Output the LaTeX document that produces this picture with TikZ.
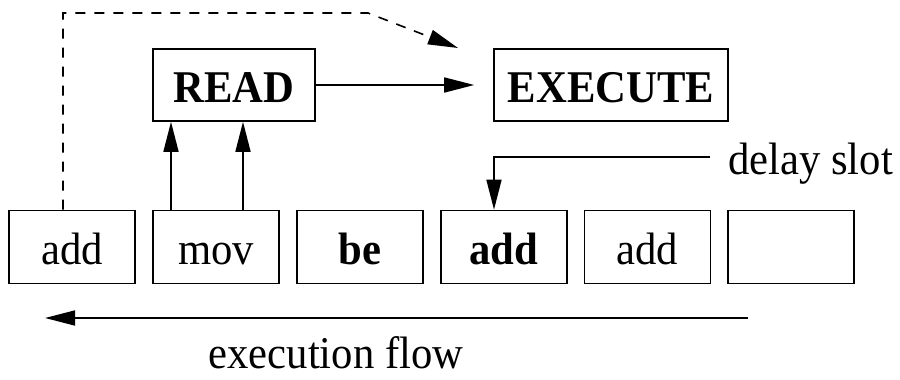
\documentclass[tikz,border=0pt]{standalone}
\usepackage{fontspec}
\setmainfont{Liberation Serif}[FakeStretch=0.94]
\usetikzlibrary{arrows.meta}
\begin{document}
\begin{tikzpicture}[x=1pt,y=1pt,
  cell/.style={draw, line width=1.6pt, minimum width=126pt, minimum height=73pt, inner sep=0pt,
    text height=35pt, text depth=0pt, font=\fontsize{45.4}{52}\selectfont},
  stage/.style={draw, line width=1.6pt, minimum height=72pt, inner sep=0pt,
    text height=36pt, text depth=0pt, font=\fontsize{45.4}{52}\selectfont\bfseries},
  arr/.style={line width=1.6pt, -{Triangle[length=30pt,width=15pt]}},
  lbl/.style={font=\fontsize{45.4}{52}\selectfont, inner sep=0pt}]
\useasboundingbox (0,0) rectangle (900,380);
% instruction cells
\node[cell] (c1) at (72,133) {add};
\node[cell] (c2) at (216,133) {mov};
\node[cell] (c3) at (360,133) {\bfseries be};
\node[cell] (c4) at (503.8,133) {\bfseries add};
\node[cell] (c5) at (647.4,133) {add};
\node[cell] (c6) at (791,133) {};
% stages
\node[stage, minimum width=162pt] (read) at (234,295) {READ};
\node[stage, minimum width=234pt] (exec) at (611,295) {EXECUTE};
% read -> execute
\draw[arr] (read.east) -- ([xshift=-19pt]exec.west);
% mov -> read
\draw[arr] ([xshift=-45pt]c2.north) -- ([xshift=-45pt]c2.north |- read.south);
\draw[arr] ([xshift=27pt]c2.north) -- ([xshift=27pt]c2.north |- read.south);
% dashed bypass
\coordinate (dcorner) at (368,367);
\coordinate (dtip) at (458,332);
\draw[arr, dash pattern=on 10pt off 9pt] ([xshift=-9pt]c1.north) |- (dcorner) -- (dtip);
% delay slot
\coordinate (dstart) at (710,223);
\draw[arr] (dstart) -| ([xshift=-9.8pt]c4.north);
\node[lbl, anchor=base west] (dl) at (728,205) {delay slot};
% execution flow
\coordinate (fs) at (748,62);
\coordinate (fe) at (45,62);
\draw[arr] (fs) -- (fe);
\node[lbl, anchor=base] (fl) at (336,11) {execution flow};
\end{tikzpicture}
\end{document}
